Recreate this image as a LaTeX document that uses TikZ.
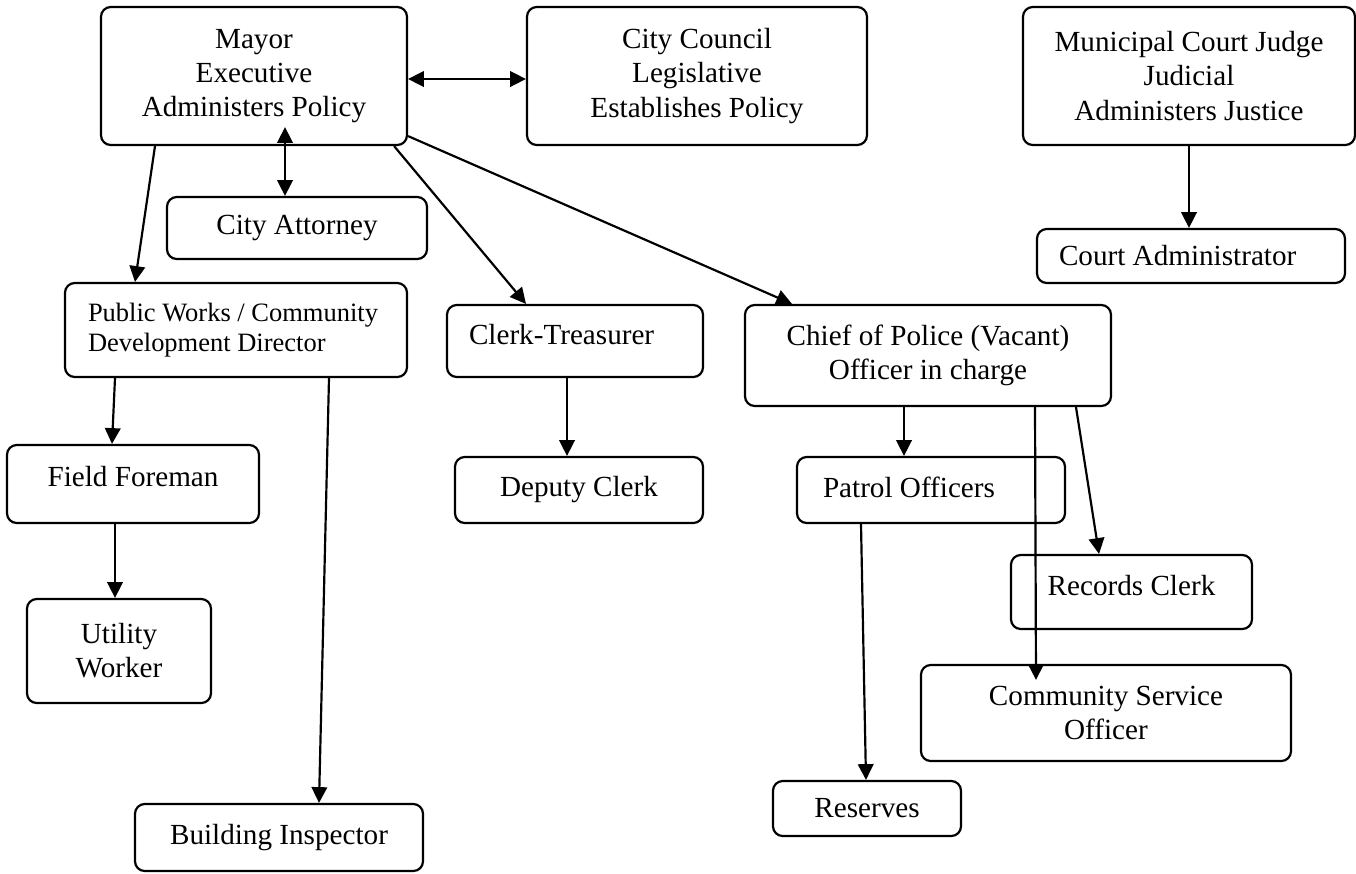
\documentclass[tikz,border=0pt]{standalone}
\usepackage{fontspec}
\setmainfont{Liberation Serif}
\usepackage{tikz}
\usetikzlibrary{arrows.meta}
\newcommand{\pxu}{0.4115pt}

\begin{document}
\begin{tikzpicture}[
  x=\pxu, y=-\pxu,
  every node/.style={font=\fontsize{12}{14}\selectfont},
  box/.style={draw,rounded corners=4pt,line width=0.9pt,align=center,
              inner sep=0pt},
  lbox/.style={box,align=flush left,inner xsep=22*\pxu},
  sz/.style 2 args={minimum width=#1*\pxu,minimum height=#2*\pxu},
  arrow/.style={-{Triangle[length=6.5pt,width=6.4pt]},line width=0.9pt},
  darrow/.style={{Triangle[length=6.5pt,width=6.4pt]}-{Triangle[length=6.5pt,width=6.4pt]},
                 line width=0.9pt},
  ]

  \useasboundingbox (0,0) rectangle (1356,873);

  %─── Top row: the three branches ───────────────────────────────────────────
  \node[box,sz={306}{138}] (mayor) at (254,76)
    {Mayor\\ Executive\\ Administers Policy};

  \node[box,sz={340}{138}] (council) at (697,76)
    {City Council\\ Legislative\\ Establishes Policy};

  \node[box,sz={332}{138}] (judge) at (1189,76)
    {Municipal Court Judge\\ Judicial\\ Administers Justice};

  %─── Second row ────────────────────────────────────────────────────────────
  \node[box,sz={260}{62}] (attorney) at (297,228) {City Attorney};

  \node[lbox,sz={308}{54},text width=264*\pxu] (courtadm) at (1191,256)
    {Court Administrator};

  %─── Department heads ──────────────────────────────────────────────────────
  \node[lbox,sz={342}{94},text width=296*\pxu,inner xsep=23*\pxu,
        font=\fontsize{10.9}{12.4}\selectfont] (pubworks) at (236,330)
    {Public Works / Community\\ Development Director};

  \node[lbox,sz={256}{72},text width=212*\pxu,text depth=14*\pxu]
    (clerk) at (575,341) {Clerk-Treasurer};

  \node[box,sz={366}{101}] (chief) at (928,355.5)
    {Chief of Police (Vacant)\\ Officer in charge};

  %─── Staff ─────────────────────────────────────────────────────────────────
  \node[box,sz={252}{78},text depth=16*\pxu] (foreman) at (133,484)
    {Field Foreman};

  \node[box,sz={248}{66}] (deputy) at (579,490) {Deputy Clerk};

  \node[lbox,sz={268}{66},inner xsep=26*\pxu,text width=216*\pxu,
        text depth=6*\pxu] (patrol) at (931,490) {Patrol Officers};

  \node[box,sz={241}{74},text depth=14*\pxu] (records) at (1131.5,592)
    {Records Clerk};

  \node[box,sz={184}{104}] (utility) at (119,651) {Utility\\ Worker};

  \node[box,sz={370}{96}] (cso) at (1106,713)
    {Community Service\\ Officer};

  \node[box,sz={188}{55}] (reserves) at (867,808.5) {Reserves};

  \node[box,sz={288}{67}] (inspector) at (279,837.5) {Building Inspector};

  %─── Mayor links ───────────────────────────────────────────────────────────
  \draw[darrow]
    ([yshift=-3*\pxu]mayor.east) -- ([yshift=-3*\pxu]council.west);

  \draw[darrow]
    ([xshift=31*\pxu,yshift=19*\pxu]mayor.south) -- ([xshift=-12*\pxu]attorney.north);

  \draw[arrow]
    ([xshift=-99*\pxu]mayor.south) -- ([xshift=-101*\pxu]pubworks.north);

  \draw[arrow]
    ([xshift=-14*\pxu]mayor.south east) -- ([xshift=-49*\pxu]clerk.north);

  \draw[arrow]
    ([yshift=10*\pxu]mayor.south east) -- ([xshift=-136*\pxu]chief.north);

  %─── Court ─────────────────────────────────────────────────────────────────
  \draw[arrow] (judge.south) -- (judge.south |- courtadm.north);

  %─── Public works ──────────────────────────────────────────────────────────
  \draw[arrow]
    ([xshift=-121*\pxu]pubworks.south) -- ([xshift=-21*\pxu]foreman.north);

  \draw[arrow]
    ([xshift=93*\pxu]pubworks.south) -- ([xshift=40*\pxu]inspector.north);

  \draw[arrow]
    ([xshift=-18*\pxu]foreman.south) -- ([xshift=-4*\pxu]utility.north);

  %─── Clerk ─────────────────────────────────────────────────────────────────
  \draw[arrow]
    ([xshift=-8*\pxu]clerk.south) -- ([xshift=-12*\pxu]deputy.north);

  %─── Police ────────────────────────────────────────────────────────────────
  \draw[arrow]
    ([xshift=-24*\pxu]chief.south) -- ([xshift=-27*\pxu]patrol.north);

  \draw[arrow]
    ([xshift=107*\pxu]chief.south) -- ([xshift=-70*\pxu,yshift=-16*\pxu]cso.north);

  \draw[arrow]
    ([xshift=148*\pxu]chief.south) -- ([xshift=-32.5*\pxu]records.north);

  \draw[arrow]
    ([xshift=-70*\pxu]patrol.south) -- ([xshift=-1*\pxu]reserves.north);

\end{tikzpicture}
\end{document}
